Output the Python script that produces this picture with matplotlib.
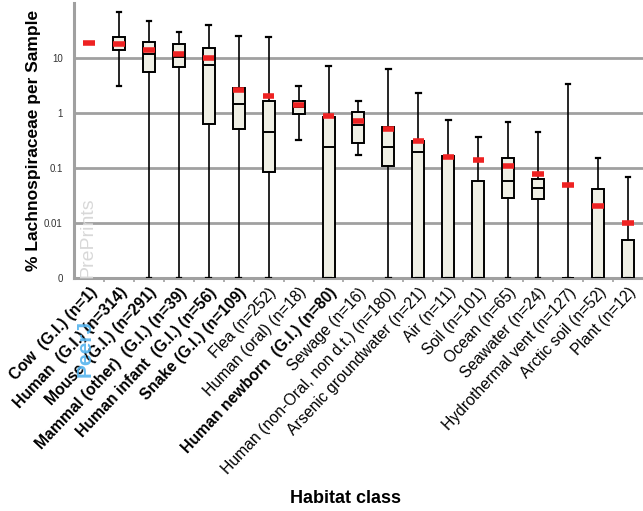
import numpy as np
import matplotlib.pyplot as plt

plt.rcParams['font.family'] = ['Liberation Sans', 'DejaVu Sans']

labels = ["Cow  (G.I.) (n=1)", "Human  (G.I.) (n=314)", "Mouse  (G.I.) (n=291)",
          "Mammal (other)  (G.I.) (n=39)", "Human infant  (G.I.) (n=56)", "Snake (G.I.) (n=109)",
          "Flea (n=252)", "Human (oral) (n=18)", "Human newborn  (G.I.) (n=80)", "Sewage (n=16)",
          "Human (non-Oral, non d.t.) (n=180)", "Arsenic groundwater (n=21)", "Air (n=11)",
          "Soil (n=101)", "Ocean (n=65)", "Seawater (n=24)", "Hydrothermal vent (n=127)",
          "Arctic soil (n=52)", "Plant (n=12)"]
bold = [True] * 6 + [False, False, True] + [False] * 10

# percent values, 0 means zero (drawn at the "0" floor)
whis_hi = [18.5, 69, 47, 30, 39.5, 24.7, 24, 3.1, 7.1, 1.67, 6.3, 2.27, 0.76, 0.37, 0.69, 0.45, 3.35, 0.149, 0.069]
q3 = [18.5, 24, 19.5, 17.7, 15.2, 2.8, 1.67, 1.65, 0.84, 1.04, 0.55, 0.31, 0.165, 0.059, 0.149, 0.062, 0, 0.042, 0.005]
median = [18.5, 18.9, 12, 10.3, 7.6, 1.46, 0.45, 1.3, 0.24, 0.61, 0.245, 0.197, 0, 0, 0.059, 0.044, 0, 0, 0]
q1 = [18.5, 14, 5.6, 7.0, 0.62, 0.51, 0.086, 0.95, 0, 0.28, 0.11, 0, 0, 0, 0.029, 0.027, 0, 0, 0]
whis_lo = [18.5, 3.15, 0, 0, 0, 0, 0, 0.33, 0, 0.176, 0, 0, 0, 0, 0, 0, 0, 0, 0]
means = [18.5, 17.7, 14, 11.8, 10, 2.6, 2.06, 1.38, 0.9, 0.72, 0.51, 0.31, 0.158, 0.138, 0.11, 0.079, 0.049, 0.02, 0.01]

floor = 0.001
ytick_vals = [0.001, 0.01, 0.1, 1, 10]
ytick_labels = ["0", "0.01", "0.1", "1", "10"]

fig = plt.figure(figsize=(6.43, 5.11), dpi=100)
ax = fig.add_axes([0.115, 0.456, 0.885, 0.538])

clip = lambda v: max(v, floor)
stats = []
for i in range(len(labels)):
    stats.append(dict(med=clip(median[i]), q1=clip(q1[i]), q3=clip(q3[i]),
                      whislo=clip(whis_lo[i]), whishi=clip(whis_hi[i]), fliers=[]))

pos = np.arange(len(labels))
for i, s in enumerate(stats):
    if i == 0:
        continue  # single sample: only the mean is shown
    ax.bxp([s], positions=[pos[i]], widths=0.4, patch_artist=True, showfliers=False,
           boxprops=dict(facecolor='#efefe5', edgecolor='black', linewidth=1.4),
           medianprops=dict(color='black', linewidth=1.4),
           whiskerprops=dict(color='black', linewidth=1.2),
           capprops=dict(color='black', linewidth=1.6), capwidths=0.15, zorder=3)

ax.hlines([clip(m) for m in means], pos - 0.19, pos + 0.19, colors='#ee2222', linewidth=4, zorder=4)

ax.set_yscale('log')
ax.set_ylim(floor, 100)
ax.set_xlim(-0.5, len(labels) - 0.5)
ax.set_yticks(ytick_vals)
ax.set_yticklabels(ytick_labels, fontsize=7, color='#333333')
ax.yaxis.set_minor_locator(plt.NullLocator())
ax.tick_params(axis='y', length=0, pad=8)
ax.grid(axis='y', color='#a0a0a0', linewidth=2, zorder=0)
ax.set_axisbelow(True)

ax.set_xticks(pos)
ax.set_xticklabels(labels, rotation=47, ha='right', rotation_mode='anchor', fontsize=11.3)
for t, b in zip(ax.get_xticklabels(), bold):
    if b:
        t.set_fontweight('bold')
ax.tick_params(axis='x', length=0, pad=5)
ax.set_xticks(pos[:-1] + 0.5, minor=True)
ax.tick_params(axis='x', which='minor', length=3, color='#a0a0a0', width=1.2)

for side in ['top', 'right']:
    ax.spines[side].set_visible(False)
for side in ['left', 'bottom']:
    ax.spines[side].set_color('#a0a0a0')
    ax.spines[side].set_linewidth(2.2)

ax.set_ylabel("% Lachnospiraceae per Sample", fontsize=12.5, fontweight='bold', labelpad=2)
fig.text(0.537, 0.015, "Habitat class", fontsize=13, fontweight='bold', ha='center')

# preprint watermark
fig.text(0.137, 0.455, "PrePrints", rotation=90, fontsize=14, color='#d8d8d8', ha='center', va='bottom')
fig.text(0.133, 0.262, "PeerJ", rotation=90, fontsize=15, fontweight='bold', color='#55b4ee', ha='center', va='bottom', alpha=0.9)

fig.savefig("out.png", dpi=100)
